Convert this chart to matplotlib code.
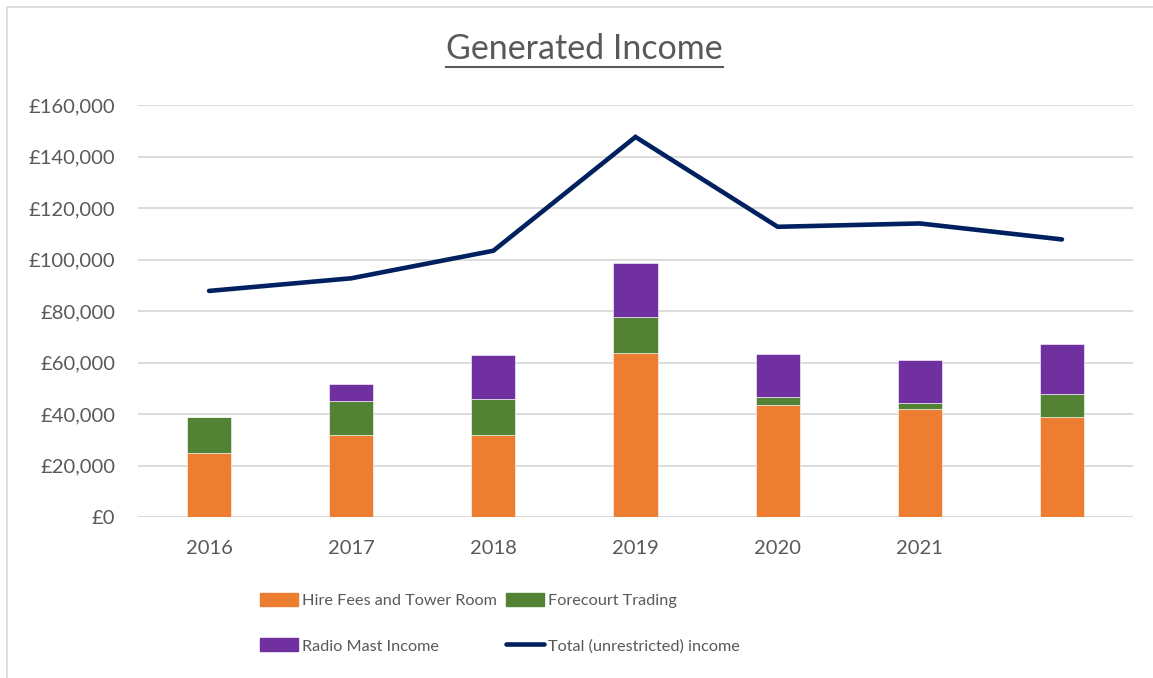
import matplotlib.pyplot as plt
from matplotlib.lines import Line2D
from matplotlib.patches import Patch
import numpy as np

plt.rcParams['font.family'] = ['Lato', 'DejaVu Sans']

years = ['2016', '2017', '2018', '2019', '2020', '2021', '']
hire_fees = np.array([25000, 31700, 32000, 63700, 43600, 41900, 38800])
forecourt = np.array([13800, 13500, 14000, 13900, 2900, 2200, 8800])
radio_mast = np.array([0, 6600, 16800, 21100, 16800, 16700, 19700])
total_income = [87800, 92700, 103400, 147600, 112700, 114000, 107800]

orange = '#ED7D31'
green = '#548235'
purple = '#7030A0'
navy = '#002060'
grey_txt = '#595959'

W, H = 1153, 678
fig = plt.figure(figsize=(W/100, H/100), dpi=100)
ax = fig.add_axes([138/W, (H-517)/H, (1133-138)/W, (517-105)/H])

x = np.arange(len(years))
w = 0.31
ax.bar(x, hire_fees, w, color=orange, edgecolor='white', linewidth=0.4, zorder=2)
ax.bar(x, forecourt, w, bottom=hire_fees, color=green, edgecolor='white', linewidth=0.4, zorder=2)
ax.bar(x, radio_mast, w, bottom=hire_fees + forecourt, color=purple, edgecolor='white', linewidth=0.4, zorder=2)
ax.plot(x, total_income, color=navy, linewidth=3.3, solid_capstyle='round', solid_joinstyle='miter', zorder=3)

ax.set_xlim(-0.5, 6.5)
ax.set_ylim(0, 160000)
ax.set_yticks(np.arange(0, 160001, 20000))
ax.set_yticklabels(['£0'] + ['£{:,}'.format(v) for v in range(20000, 160001, 20000)])
ax.set_xticks(x)
ax.set_xticklabels(years)
ax.tick_params(length=0, labelsize=14.5, colors=grey_txt)
ax.tick_params(axis='y', pad=16.5)
ax.tick_params(axis='x', pad=16.5)
ax.grid(axis='y', color='#D9D9D9', linewidth=1.3, zorder=0)
for s in ax.spines.values():
    s.set_visible(False)

# title with underline
t = fig.text(584.5/W, 1 - 59/H, 'Generated Income', ha='center', va='baseline',
             fontsize=24.5, color=grey_txt)
fig.canvas.draw()
bb = t.get_window_extent()
fig.add_artist(Line2D([bb.x0/W, bb.x1/W], [1 - 67/H] * 2, color=grey_txt, linewidth=1.5))

# legend, two columns placed separately
leg_kw = dict(loc='upper left', frameon=False, fontsize=11.7, labelcolor=grey_txt,
              handlelength=2.34, handleheight=0.86, handletextpad=0.25, labelspacing=1.86,
              borderpad=0, borderaxespad=0)
fig.legend([Patch(color=orange), Patch(color=purple)],
           ['Hire Fees and Tower Room', 'Radio Mast Income'],
           bbox_to_anchor=(260/W, 1 - 593/H), **leg_kw)
fig.legend([Patch(color=green), Line2D([], [], color=navy, linewidth=3.3, solid_capstyle='round')],
           ['Forecourt Trading', 'Total (unrestricted) income'],
           bbox_to_anchor=(506/W, 1 - 593/H), **leg_kw)

# chart border
fig.add_artist(Line2D([7/W, 7/W, 1], [0, 1 - 7/H, 1 - 7/H], color='#D9D9D9', linewidth=1.2))

fig.savefig('out.png', dpi=100)
